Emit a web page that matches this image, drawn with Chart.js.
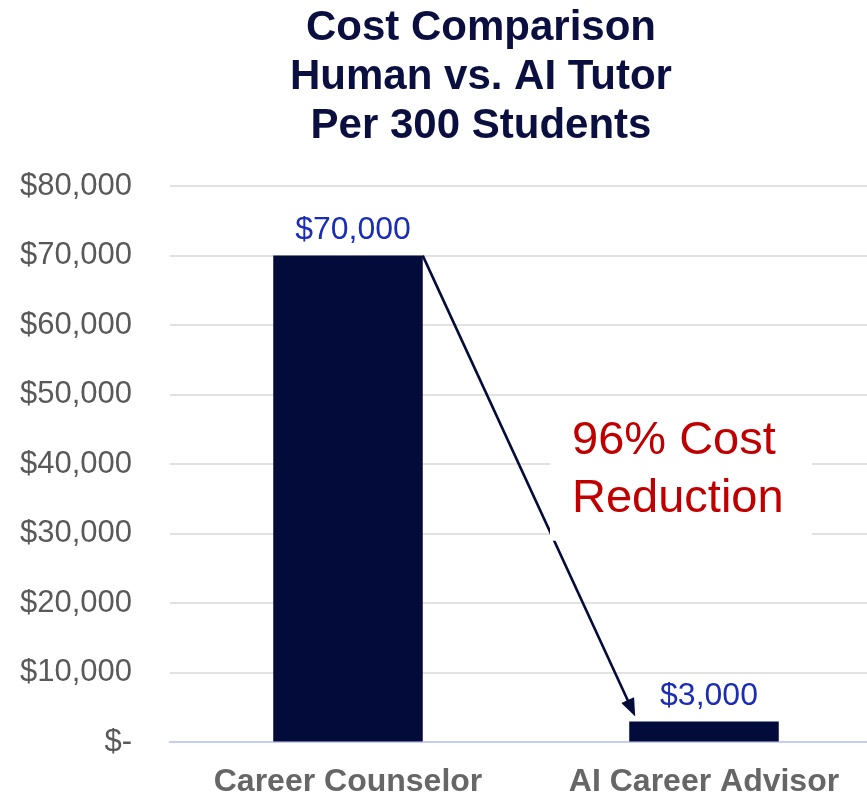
<!DOCTYPE html>
<html>
<head>
<meta charset="utf-8">
<script src="https://cdn.jsdelivr.net/npm/chart.js@4.4.1/dist/chart.umd.min.js"></script>
<style>
    html, body { margin: 0; padding: 0; background: #fff; overflow: hidden; }
    #wrap { width: 867px; height: 799px; overflow: hidden; }
</style>
</head>
<body>
<div id="wrap"><canvas id="grafik" width="882" height="799"></canvas></div>
<script>
// Veriler
const kategoriler = ['Career Counselor', 'AI Career Advisor'];
const maliyetler = [70000, 3000];
const baslikSatirlari = ['Cost Comparison', 'Human vs. AI Tutor', 'Per 300 Students'];
const notSatirlari = ['96% Cost', 'Reduction'];

const LACIVERT = '#030b3a';
const FONT = "'Liberation Sans', Arial, sans-serif";

function paraYaz(v) {
    if (v === 0) return '$-';
    return '$' + v.toLocaleString('en-US');
}

// Başlığı biraz sağa kaydır (orijinaldeki gibi)
const baslikKaydir = {
    id: 'baslikKaydir',
    afterLayout(chart) {
        const t = chart.titleBlock;
        if (t) {
            t.left += 40;
            t.right += 40;
        }
    }
};

// Etiketler, ok ve not kutusu
const notEklentisi = {
    id: 'notEklentisi',
    afterDatasetsDraw(chart) {
        const ctx = chart.ctx;
        const meta = chart.getDatasetMeta(0);
        const b1 = meta.data[0];
        const b2 = meta.data[1];
        const y = chart.scales.y;

        // Ok
        const x0 = b1.x + b1.width / 2, y0 = b1.y;
        const x1 = b2.x - b2.width / 2 + 6, y1 = b2.y - 5;
        const aci = Math.atan2(y1 - y0, x1 - x0);
        const uz = 18, gen = 7;
        ctx.save();
        ctx.strokeStyle = LACIVERT;
        ctx.fillStyle = LACIVERT;
        ctx.lineWidth = 2.6;
        ctx.beginPath();
        ctx.moveTo(x0, y0);
        ctx.lineTo(x1 - Math.cos(aci) * uz * 0.8, y1 - Math.sin(aci) * uz * 0.8);
        ctx.stroke();
        ctx.beginPath();
        ctx.moveTo(x1, y1);
        ctx.lineTo(x1 - Math.cos(aci) * uz - Math.sin(aci) * gen, y1 - Math.sin(aci) * uz + Math.cos(aci) * gen);
        ctx.lineTo(x1 - Math.cos(aci) * uz + Math.sin(aci) * gen, y1 - Math.sin(aci) * uz - Math.cos(aci) * gen);
        ctx.closePath();
        ctx.fill();

        // Not kutusu
        const kutuSol = b2.x - 154;
        const kutuUst = y.getPixelForValue(47500);
        const kutuAlt = y.getPixelForValue(29000);
        ctx.fillStyle = '#ffffff';
        ctx.fillRect(kutuSol, kutuUst, 262, kutuAlt - kutuUst);

        ctx.fillStyle = '#c00000';
        ctx.font = '47px ' + FONT;
        ctx.textAlign = 'left';
        ctx.textBaseline = 'alphabetic';
        notSatirlari.forEach((s, i) => {
            ctx.fillText(s, kutuSol + 22, y.getPixelForValue(41500) + i * 58);
        });

        // Değer etiketleri
        ctx.fillStyle = '#1b2db5';
        ctx.font = '32px ' + FONT;
        ctx.textAlign = 'center';
        meta.data.forEach((bar, i) => {
            ctx.fillText(paraYaz(maliyetler[i]), bar.x + 5, bar.y - 17);
        });
        ctx.restore();
    }
};

new Chart(document.getElementById('grafik'), {
    type: 'bar',
    data: {
        labels: kategoriler,
        datasets: [{
            data: maliyetler,
            backgroundColor: LACIVERT,
            barPercentage: 0.42,
            categoryPercentage: 1
        }]
    },
    options: {
        responsive: false,
        animation: false,
        layout: { padding: { left: 0, right: 0, top: 0, bottom: 0 } },
        plugins: {
            legend: { display: false },
            tooltip: { enabled: false },
            title: {
                display: true,
                text: baslikSatirlari,
                color: '#0a0f3f',
                font: { family: FONT, size: 42, weight: 'bold', lineHeight: 1.167 },
                padding: { top: 4, bottom: 35 }
            }
        },
        scales: {
            x: {
                grid: { display: false, drawTicks: false },
                border: { display: true, color: '#c5cdf6', width: 2 },
                ticks: {
                    color: '#666666',
                    padding: 21,
                    font: { family: FONT, size: 32, weight: 'bold' }
                },
                afterFit(scale) { scale.height = 56; }
            },
            y: {
                min: 0,
                max: 80000,
                grid: { color: '#e2e2e2', lineWidth: 2, drawTicks: false },
                border: { display: false },
                ticks: {
                    stepSize: 10000,
                    color: '#595959',
                    padding: 38,
                    font: { family: FONT, size: 31 },
                    callback: (v) => paraYaz(v)
                },
                afterFit(scale) { scale.width = 170; }
            }
        }
    },
    plugins: [baslikKaydir, notEklentisi]
});
</script>
</body>
</html>
